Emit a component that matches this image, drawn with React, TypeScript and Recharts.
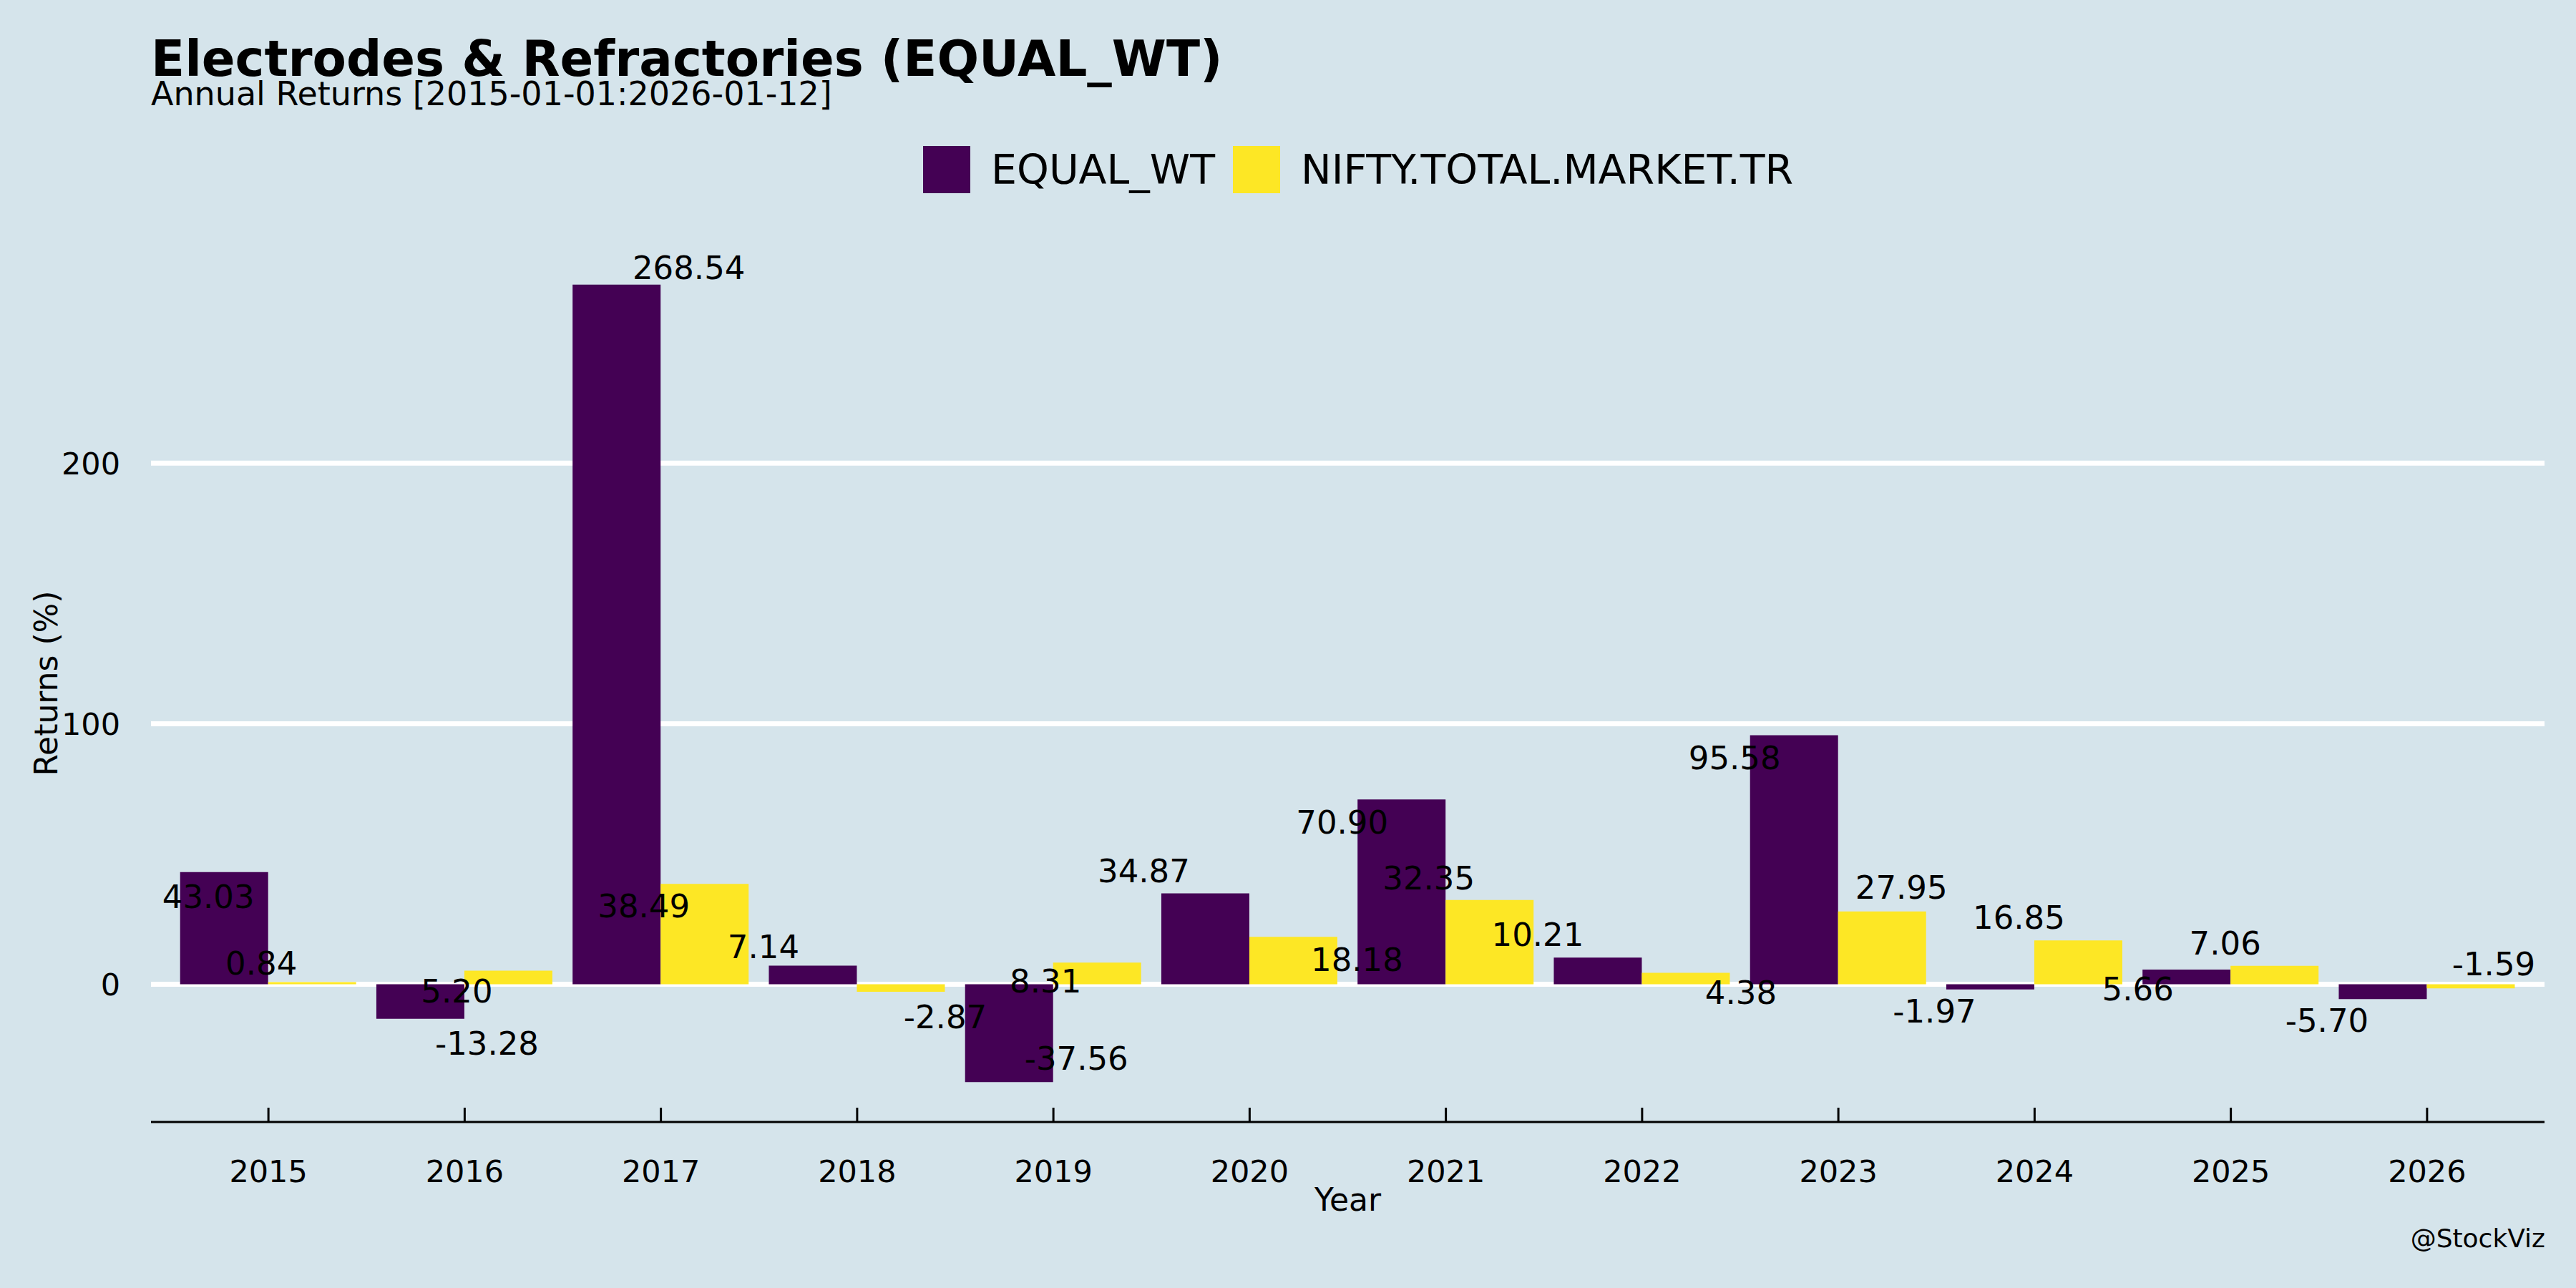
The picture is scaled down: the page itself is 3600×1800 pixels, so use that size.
import React from "react";
import { BarChart, Bar, XAxis, YAxis, CartesianGrid, Legend, LabelList, Label } from "recharts";

const YEARS = ["2015", "2016", "2017", "2018", "2019", "2020", "2021", "2022", "2023", "2024", "2025", "2026"];
const EQUAL_WT = [43.03, -13.28, 268.54, 7.14, -37.56, 34.87, 70.9, 10.21, 95.58, -1.97, 5.66, -5.7];
const NIFTY_TMTR = [0.84, 5.2, 38.49, -2.87, 8.31, 18.18, 32.35, 4.38, 27.95, 16.85, 7.06, -1.59];
const Y_TICKS = [0, 100, 200];

// label nudges [dx, dy] from the bar end, as placed in the original plot
const EQ_NUDGE = [
  [-22, 34], [93, 34], [101, -24], [-69, -27], [94, -33], [-86, -32],
  [-83, 32], [-84, -32], [-83, 32], [-78, 30], [-68, 27], [-78, 30],
];
const NIFTY_NUDGE = [
  [-71, -26], [-72, 28], [-85, 31], [62, 35], [-72, 26], [89, 32],
  [-85, -31], [77, 27], [27, -34], [-83, -32], [-69, -32], [32, -34],
];

const FONT = "'DejaVu Sans', Verdana, sans-serif";
const BG = "#d5e4eb";
const PURPLE = "#440154";
const YELLOW = "#fde725";

const data = YEARS.map((year, i) => ({ year, eq: EQUAL_WT[i], nifty: NIFTY_TMTR[i] }));

// ggplot-style 5% expansion of the value range
const allVals = [...EQUAL_WT, ...NIFTY_TMTR, 0];
const lo = Math.min(...allVals);
const hi = Math.max(...allVals);
const pad = (hi - lo) * 0.05;
const Y_DOMAIN = [lo - pad, hi + pad];

const makeLabel = (nudges: number[][]) => (props: any) => {
  const { x, y, width, height, value, index } = props;
  const v = Number(value);
  const top = Math.min(y, y + height);
  const bottom = Math.max(y, y + height);
  const anchorY = v >= 0 ? top : bottom;
  const [dx, dy] = nudges[index] || [0, 0];
  return (
    <text
      x={x + width / 2 + dx}
      y={anchorY + dy + 16}
      textAnchor="middle"
      fontSize={45}
      fontFamily={FONT}
      fill="#000"
    >
      {v.toFixed(2)}
    </text>
  );
};

const YearTick = (props: any) => {
  const { x, y, payload } = props;
  return (
    <g>
      <line x1={x} x2={x} y1={y - 20} y2={y} stroke="#000" strokeWidth={3} />
      <text x={x} y={y + 84} textAnchor="middle" fontSize={43} fontFamily={FONT} fill="#000">
        {payload.value}
      </text>
    </g>
  );
};

const LegendContent = (props: any) => {
  const items = props.payload || [];
  return (
    <div
      style={{
        display: "flex",
        alignItems: "center",
        paddingLeft: 1290,
        fontFamily: FONT,
        fontSize: 57,
        lineHeight: 1,
        color: "#000",
      }}
    >
      {items.map((it: any) => (
        <div key={it.value} style={{ display: "flex", alignItems: "center", marginRight: 25 }}>
          <div style={{ width: 66, height: 66, background: it.color, marginRight: 29 }} />
          <span>{it.value}</span>
        </div>
      ))}
    </div>
  );
};

export default function App() {
  return (
    <div style={{ position: "absolute", left: 0, top: 0, width: 3600, height: 1800, background: BG }}>
      <BarChart
        width={3600}
        height={1800}
        data={data}
        margin={{ top: 342, right: 44, bottom: 0, left: 0 }}
        barCategoryGap="5%"
        barGap={0}
      >
        <CartesianGrid
          horizontal
          vertical={false}
          horizontalValues={Y_TICKS}
          stroke="#ffffff"
          strokeWidth={7}
        />
        <XAxis
          dataKey="year"
          height={232}
          padding={{ left: 27, right: 27 }}
          axisLine={{ stroke: "#000", strokeWidth: 3 }}
          tickLine={false}
          tickSize={0}
          tickMargin={0}
          tick={<YearTick />}
          interval={0}
        >
          <Label
            value="Year"
            position="insideBottom"
            offset={108}
            style={{ fontSize: 44, fontFamily: FONT, fill: "#000" }}
          />
        </XAxis>
        <YAxis
          width={211}
          domain={Y_DOMAIN}
          allowDataOverflow
          ticks={Y_TICKS}
          axisLine={false}
          tickLine={false}
          tickSize={0}
          tickMargin={43}
          tick={{ fontSize: 43, fontFamily: FONT, fill: "#000" }}
        >
          <Label
            content={(p: any) => {
              const vb = p.viewBox || {};
              const cy = vb.y + vb.height / 2;
              return (
                <text
                  x={80}
                  y={cy}
                  transform={`rotate(-90, 80, ${cy})`}
                  textAnchor="middle"
                  fontSize={44}
                  fontFamily={FONT}
                  fill="#000"
                >
                  Returns (%)
                </text>
              );
            }}
          />
        </YAxis>
        <Legend
          verticalAlign="middle"
          align="center"
          layout="horizontal"
          content={<LegendContent />}
          wrapperStyle={{ top: 204, left: 0, width: 3600, height: 67 }}
        />
        <Bar dataKey="eq" name="EQUAL_WT" fill={PURPLE} isAnimationActive={false}>
          <LabelList dataKey="eq" content={makeLabel(EQ_NUDGE)} />
        </Bar>
        <Bar dataKey="nifty" name="NIFTY.TOTAL.MARKET.TR" fill={YELLOW} isAnimationActive={false}>
          <LabelList dataKey="nifty" content={makeLabel(NIFTY_NUDGE)} />
        </Bar>
      </BarChart>
      <svg
        width={3600}
        height={1800}
        style={{ position: "absolute", left: 0, top: 0, pointerEvents: "none" }}
      >
        <text x={211} y={106} fontSize={69} fontWeight="bold" fontFamily={FONT} fill="#000">
          Electrodes &amp; Refractories (EQUAL_WT)
        </text>
        <text x={211} y={147} fontSize={46} fontFamily={FONT} fill="#000">
          Annual Returns [2015-01-01:2026-01-12]
        </text>
        <text x={3557} y={1743} fontSize={36} fontFamily={FONT} fill="#000" textAnchor="end">
          @StockViz
        </text>
      </svg>
    </div>
  );
}
